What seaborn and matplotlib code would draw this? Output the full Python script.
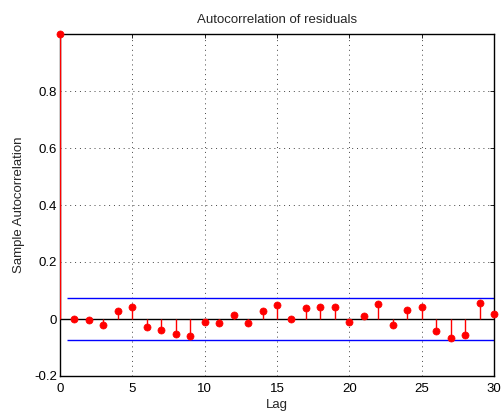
import matplotlib
matplotlib.use("Agg")
import matplotlib.pyplot as plt
import seaborn as sns
import pandas as pd
import numpy as np

lags = list(range(0, 31))
acf = [1.0, 0.001, -0.005, -0.022, 0.028, 0.042, -0.027, -0.037, -0.051, -0.058,
       -0.012, -0.014, 0.014, -0.015, 0.027, 0.050, 0.001, 0.037, 0.043, 0.042,
       -0.009, 0.009, 0.051, -0.022, 0.030, 0.042, -0.043, -0.065, -0.057, 0.057,
       0.017]
bound = 0.0734
bound_start = 0.5
bound_end = 30
xticks = [0, 5, 10, 15, 20, 25, 30]
yticks = [-0.2, 0, 0.2, 0.4, 0.6, 0.8]
ytick_labels = ["-0.2", "0", "0.2", "0.4", "0.6", "0.8"]

df = pd.DataFrame({"Lag": lags, "ACF": acf})

sns.set_style("white")
plt.rcParams['font.family'] = ['Liberation Sans', 'DejaVu Sans']

fig = plt.figure(figsize=(5.01, 4.12), dpi=100)
ax = fig.add_axes([60/501, 1-376/412, (494-60)/501, (376-34)/412])

ax.set_xlim(0, 30)
ax.set_ylim(-0.2, 1.0)

ax.grid(True, linestyle=(0, (1, 4)), color='#444444', linewidth=0.7)
ax.set_axisbelow(True)

ax.hlines(0, 0, 30, color='black', linewidth=1.0, zorder=2)
ax.hlines([bound, -bound], bound_start, bound_end, color='blue', linewidth=1.0, zorder=2)
ax.vlines(df["Lag"], 0, df["ACF"], color='red', linewidth=1.0, zorder=3)
sns.scatterplot(data=df, x="Lag", y="ACF", ax=ax, color='red', s=26,
                edgecolor='red', linewidth=0.5, zorder=4, clip_on=False)

fs = 9.5
ax.set_xticks(xticks)
ax.set_yticks(yticks)
ax.set_yticklabels(ytick_labels)
ax.tick_params(direction='in', length=3, width=0.6, colors='black',
               labelsize=fs, top=True, right=True, pad=2)
ax.tick_params(axis='x', pad=5)
for s in ax.spines.values():
    s.set_visible(True)
    s.set_color('black')
    s.set_linewidth(1.0)

ax.set_title("Autocorrelation of residuals", fontsize=fs, pad=8)
ax.set_xlabel("Lag", fontsize=fs, labelpad=3)
ax.set_ylabel("Sample Autocorrelation", fontsize=fs, labelpad=7)

fig.savefig("out.png", dpi=100)
